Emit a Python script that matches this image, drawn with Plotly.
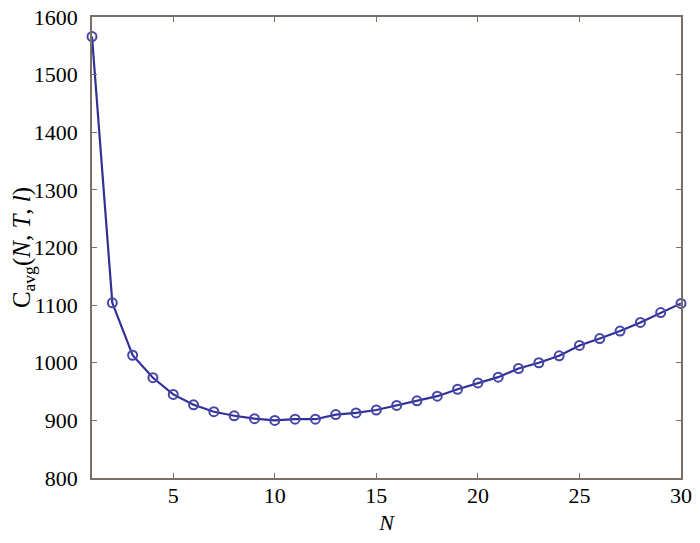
import plotly.graph_objects as go

n_values = list(range(1, 31))
c_avg = [
    1566, 1104, 1013, 974, 945, 927, 915, 908, 903, 900,
    902, 902, 910, 913, 918, 926, 934, 942, 954, 965,
    975, 990, 1000, 1012, 1030, 1042, 1055, 1070, 1087, 1103,
]

y_ticks = [800, 900, 1000, 1100, 1200, 1300, 1400, 1500, 1600]
x_ticks = [5, 10, 15, 20, 25, 30]

line_color = "rgb(48, 48, 150)"
frame_color = "rgb(120, 112, 104)"
font_family = "Liberation Serif, Times New Roman, serif"

fig = go.Figure()
fig.add_trace(
    go.Scatter(
        x=n_values,
        y=c_avg,
        mode="lines+markers",
        line=dict(color=line_color, width=2.2),
        marker=dict(
            symbol="circle-open",
            size=9,
            color="rgb(70, 70, 170)",
            line=dict(width=2),
        ),
        showlegend=False,
        cliponaxis=False,
    )
)

axis_common = dict(
    showline=True,
    linecolor=frame_color,
    linewidth=1.5,
    mirror="ticks",
    ticks="inside",
    ticklen=5,
    tickcolor=frame_color,
    showgrid=False,
    zeroline=False,
    automargin=False,
    ticklabeloverflow="allow",
    tickfont=dict(family=font_family, size=22, color="black"),
)

fig.update_xaxes(
    range=[1, 30],
    tickvals=x_ticks,
    ticklabelstandoff=-3,
    title=dict(text="<i>N</i>", font=dict(family=font_family, size=22, color="black"), standoff=16),
    **axis_common,
)
fig.update_yaxes(
    range=[800, 1600],
    tickvals=y_ticks,
    ticklabelstandoff=8,
    title=dict(
        text="C<sub>avg</sub>(<i>N</i>, <i>T</i>, <i>l</i>)",
        font=dict(family=font_family, size=25, color="black"),
        standoff=1,
    ),
    **axis_common,
)

# the page body adds 8px on every side, so keep the figure small enough
# that the window never gets scrollbars
fig.update_layout(
    width=684,
    height=527,
    margin=dict(l=84, r=11, t=9, b=57),
    paper_bgcolor="white",
    plot_bgcolor="white",
    font=dict(family=font_family, color="black"),
)

fig.write_html("out.html")
